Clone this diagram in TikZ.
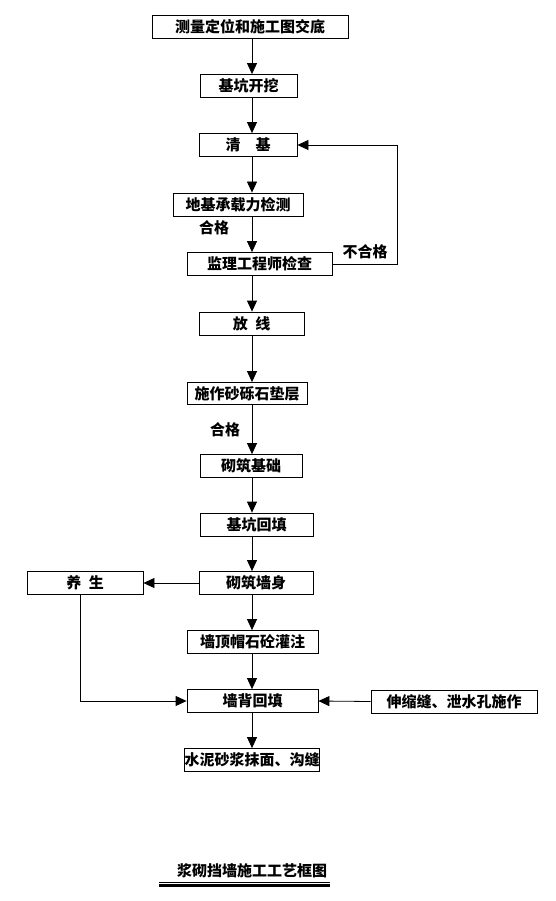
\documentclass[tikz,border=0pt]{standalone}
\usepackage{fontspec}
\newfontfamily\cjk{Noto Sans CJK SC}
\usetikzlibrary{arrows.meta,positioning}

\begin{document}
\begin{tikzpicture}[
    x=1pt, y=-1pt,
    >={Triangle[length=11pt,width=10pt]},
    line width=0.8pt,
    block/.style={draw, inner sep=0pt, minimum height=23pt},
    note/.style={inner sep=0pt},
    font=\cjk\bfseries\fontsize{15}{18}\selectfont
  ]
    \useasboundingbox (0,0) rectangle (555,901);
    \coordinate (ax) at (252,0);
    \node[block, minimum width=196pt] (survey) at (250,26.5) {测量定位和施工图交底};
    \node[block, minimum width=97pt] (dig) at (248.5,86) {基坑开挖};
    \node[block, minimum width=98pt] (clean) at (248,145) {清\hspace{1em}基};
    \node[block, minimum width=130pt] (bearing) at (238,204.5) {地基承载力检测};
    \node[block, minimum width=145pt] (inspect) at (259.5,264) {监理工程师检查};
    \node[block, minimum width=105pt] (layout) at (251.5,323.5) {放\hspace{0.5em}线};
    \node[block, minimum width=120pt, minimum height=22pt] (gravel) at (247,393.5) {施作砂砾石垫层};
    \node[block, minimum width=102pt] (footing) at (251,466) {砌筑基础};
    \node[block, minimum width=113pt] (backpit) at (256.5,524.5) {基坑回填};
    \node[block, minimum width=114pt] (wall) at (256,583) {砌筑墙身};
    \node[block, minimum width=116pt] (cure) at (85,583) {养\hspace{0.5em}生};
    \node[block, minimum width=131pt] (cap) at (252.5,642) {墙顶帽石砼灌注};
    \node[block, minimum width=131pt] (backfill) at (252.5,701) {墙背回填};
    \node[block, minimum width=166pt] (joint) at (454,701.5) {伸缩缝、泄水孔施作};
    \node[block, minimum width=132pt] (render) at (252,760) {水泥砂浆抹面、沟缝};
    \node[note] (ok1) at (214,228) {合格};
    \node[note] (fail) at (365,252) {不合格};
    \node[note] (ok2) at (225,430) {合格};
    \coordinate (loop) at (397,0);
    % main line
    \draw[->] (survey.south -| ax) -- (dig.north -| ax);
    \draw[->] (dig.south -| ax) -- (clean.north -| ax);
    \draw[->] (clean.south -| ax) -- (bearing.north -| ax);
    \draw[->] (bearing.south -| ax) -- (inspect.north -| ax);
    \draw[->] (inspect.south -| ax) -- (layout.north -| ax);
    \draw[->] (layout.south -| ax) -- (gravel.north -| ax);
    \draw[->] (gravel.south -| ax) -- (footing.north -| ax);
    \draw[->] (footing.south -| ax) -- (backpit.north -| ax);
    \draw[->] (backpit.south -| ax) -- (wall.north -| ax);
    \draw[->] (wall.south -| ax) -- (cap.north -| ax);
    \draw[->] (cap.south -| ax) -- (backfill.north -| ax);
    \draw[->] (backfill.south -| ax) -- (render.north -| ax);
    % side branches
    \draw[->] (inspect.east) -- (inspect.east -| loop) |- (clean.east);
    \draw[->] (wall.west) -- (cure.east);
    \draw[->] ([xshift=-5pt]cure.south) |- (backfill.west);
    \draw[->] (joint.west) -- (backfill.east);
    % title
    \node[note] (title) at (252,871) {浆砌挡墙施工工艺框图};
    \draw[line width=0.6pt] (159,882) -- (330,882);
    \draw[line width=2.5pt] (159,885.5) -- (330,885.5);
  \end{tikzpicture}
\end{document}
